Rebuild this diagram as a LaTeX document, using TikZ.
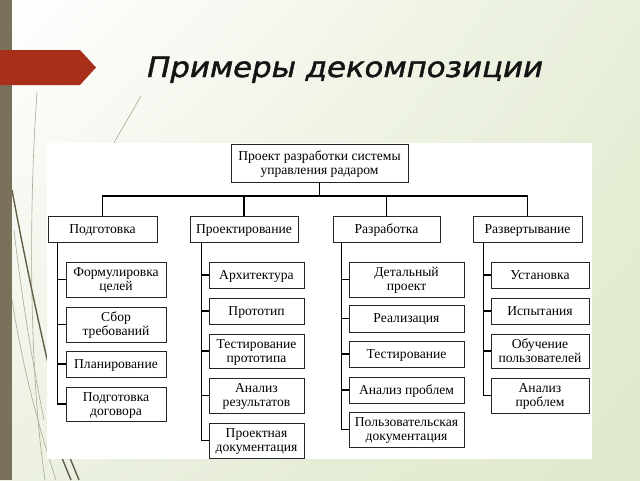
\documentclass[tikz,border=0pt]{standalone}
\usepackage{fontspec}
\usetikzlibrary{shadings}
\setmainfont{Liberation Serif}
\newfontfamily\titlefont{DejaVu Sans}[FakeBold=1.6, FakeStretch=1.1]
\newcommand{\topst}{\rule{0pt}{11.8pt}}
\newcommand{\botst}{\rule[-3.4pt]{0pt}{3.4pt}}
\definecolor{barcol}{RGB}{121,113,89}
\definecolor{arrowred}{RGB}{168,48,26}
\definecolor{bgA}{RGB}{255,255,255}
\definecolor{bgB}{RGB}{232,239,218}
\definecolor{bgC}{RGB}{236,241,226}
\definecolor{bgD}{RGB}{223,232,202}
\definecolor{wispdark}{RGB}{100,94,72}
\definecolor{wisplight}{RGB}{170,168,150}
\begin{document}
\begin{tikzpicture}[x=1pt,y=-1pt,
  box/.style={draw=black!85, line width=0.8pt, fill=white, align=center, inner sep=0pt,
    font=\fontsize{13.6}{14}\selectfont},
  one/.style={box, text height=11.8pt, text depth=3.4pt},
  conn/.style={line width=1.3pt, black},
  wisp/.style={wisplight, line width=0.6pt},
  wispd/.style={wispdark, line width=1.4pt}]
\useasboundingbox (0,0) rectangle (640,480);
% background
\shade[upper left=bgA, upper right=bgB, lower left=bgC, lower right=bgD] (0,0) rectangle (640,480);
% wisp lines
\draw[wisp] (37,92) .. controls (28,220) and (30,380) .. (45,480);
\draw[wispd] (12,190) .. controls (25,260) and (40,330) .. (52,380);
\draw[wisp] (141,96) .. controls (110,150) and (80,200) .. (60,240);
\draw[wisp] (12,300) .. controls (25,380) and (40,430) .. (56,480);
\draw[wisp] (14,230) .. controls (22,300) and (32,360) .. (44,420);
\draw[wispd] (62,458) -- (71,480);
\draw[wispd] (70,458) -- (79,480);
% left bar
\fill[barcol] (0,0) rectangle (12,480);
% red arrow
\fill[arrowred] (0,50) -- (80,50) -- (96,67.5) -- (80,85) -- (0,85) -- cycle;
% title
\node[anchor=base west, font=\titlefont\itshape\fontsize{28}{31}\selectfont, text=black!92, inner sep=0pt] (title) at (147,77) {Примеры декомпозиции};
% white panel
\fill[white] (47,143) rectangle (592,459);
% root and level 1
\node[box, minimum width=177pt, minimum height=38pt] (root) at (319.5,163) {\topst Проект разработки системы\\управления радаром\botst};
\node[one, minimum width=109pt, minimum height=26pt] (p1) at (102.5,229) {Подготовка};
\node[one, minimum width=108pt, minimum height=26pt] (p2) at (244,229) {Проектирование};
\node[one, minimum width=107pt, minimum height=26pt] (p3) at (386.5,229) {Разработка};
\node[one, minimum width=109pt, minimum height=26pt] (p4) at (527.5,229) {Развертывание};
% column 1
\node[box, minimum width=100pt, minimum height=35pt] (c11) at (116,279.5) {\topst Формулировка\\целей\botst};
\node[box, minimum width=100pt, minimum height=35pt] (c12) at (116,324.5) {\topst Сбор\\требований\botst};
\node[one, minimum width=100pt, minimum height=26pt] (c13) at (116,364) {Планирование};
\node[box, minimum width=100pt, minimum height=34pt] (c14) at (116,404) {\topst Подготовка\\договора\botst};
% column 2
\node[one, minimum width=95pt, minimum height=26pt] (c21) at (256.5,275) {Архитектура};
\node[one, minimum width=95pt, minimum height=26pt] (c22) at (256.5,311) {Прототип};
\node[box, minimum width=95pt, minimum height=34pt] (c23) at (256.5,351) {\topst Тестирование\\прототипа\botst};
\node[box, minimum width=95pt, minimum height=35pt] (c24) at (256.5,395.5) {\topst Анализ\\результатов\botst};
\node[box, minimum width=95pt, minimum height=35pt] (c25) at (256.5,440.5) {\topst Проектная\\документация\botst};
% column 3
\node[box, minimum width=115pt, minimum height=35pt] (c31) at (406.5,279.5) {\topst Детальный\\проект\botst};
\node[one, minimum width=115pt, minimum height=27pt] (c32) at (406.5,318.5) {Реализация};
\node[one, minimum width=115pt, minimum height=26pt] (c33) at (406.5,354) {Тестирование};
\node[one, minimum width=115pt, minimum height=26pt] (c34) at (406.5,390) {Анализ проблем};
\node[box, minimum width=115pt, minimum height=35pt] (c35) at (406.5,429.5) {\topst Пользовательская\\документация\botst};
% column 4
\node[one, minimum width=98pt, minimum height=26pt] (c41) at (540,275) {Установка};
\node[one, minimum width=98pt, minimum height=26pt] (c42) at (540,311) {Испытания};
\node[box, minimum width=98pt, minimum height=34pt] (c43) at (540,351) {\topst Обучение\\пользователей\botst};
\node[box, minimum width=98pt, minimum height=35pt] (c44) at (540,395.5) {\topst Анализ\\проблем\botst};
% bus
\coordinate (busy) at (0,196);
\draw[conn] (root.south) -- (root.south |- busy);
\draw[conn] (p1.north) -- (p1.north |- busy) -- (p4.north |- busy) -- (p4.north);
\draw[conn] (p2.north) -- (p2.north |- busy);
\draw[conn] (p3.north) -- (p3.north |- busy);
% trunks
\coordinate (t1) at ([xshift=10pt]p1.south west);
\coordinate (t2) at ([xshift=12pt]p2.south west);
\coordinate (t3) at ([xshift=9pt]p3.south west);
\coordinate (t4) at ([xshift=11pt]p4.south west);
\draw[conn] (t1) |- (c14.west);
\draw[conn] (t2) |- (c25.west);
\draw[conn] (t3) |- (c35.west);
\draw[conn] (t4) |- (c44.west);
\foreach \c in {c11,c12,c13} \draw[conn] (\c.west) -- (\c.west -| t1);
\foreach \c in {c21,c22,c23,c24} \draw[conn] (\c.west) -- (\c.west -| t2);
\foreach \c in {c31,c32,c33,c34} \draw[conn] (\c.west) -- (\c.west -| t3);
\foreach \c in {c41,c42,c43} \draw[conn] (\c.west) -- (\c.west -| t4);
\end{tikzpicture}
\end{document}
